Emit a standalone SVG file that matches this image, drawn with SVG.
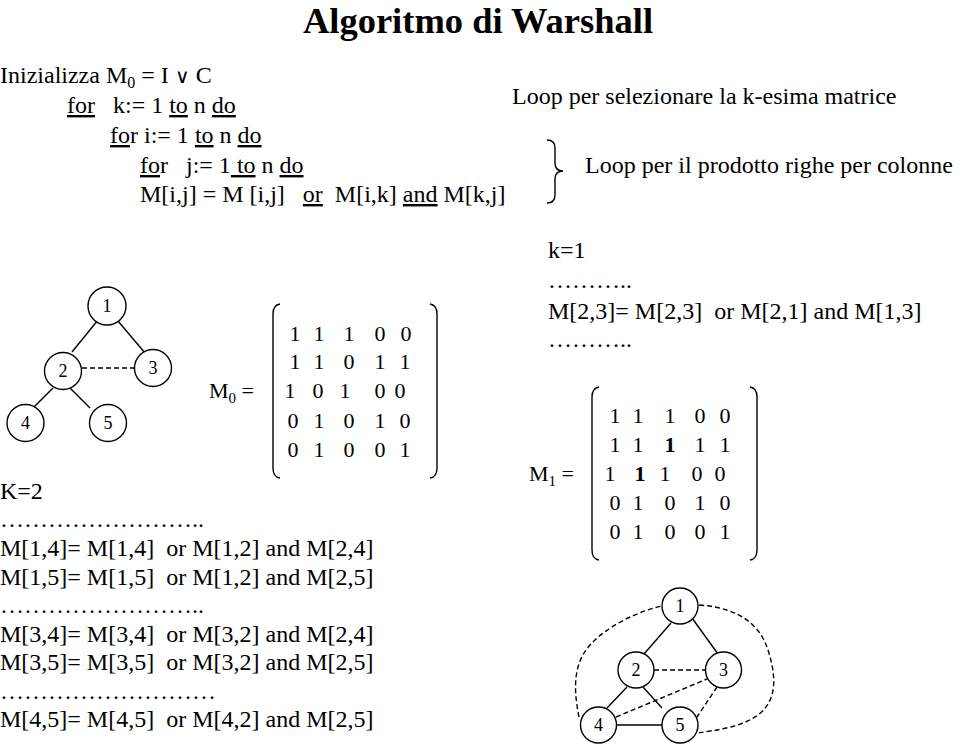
<svg xmlns="http://www.w3.org/2000/svg" width="960" height="744" viewBox="0 0 960 744">
<style>
text{font-family:"Liberation Serif","Times New Roman",serif;fill:#000}
.t{font-size:24px}
.d{font-size:22px;text-anchor:middle}
.b{font-weight:bold}
.u{text-decoration:underline}
.n{font-size:18px;text-anchor:middle}
circle{fill:#fff;stroke:#000;stroke-width:1.4}
.e{stroke:#000;stroke-width:1.4;fill:none}
.ds{stroke-dasharray:5,3}
.br{stroke:#000;stroke-width:1.4;fill:none}
</style>
<rect width="960" height="744" fill="#fff"/>
<text x="478" y="33" font-size="36.5" font-weight="bold" text-anchor="middle">Algoritmo di Warshall</text>
<g id="code">
<text class="t" x="0" y="83" xml:space="preserve">Inizializza M<tspan font-size="16" dy="5">0</tspan><tspan dy="-5"> = I </tspan><tspan font-size="20">∨</tspan> C</text>
<text class="t" x="67" y="113" xml:space="preserve"><tspan class="u">for</tspan>   k:= 1 <tspan class="u">to</tspan> n <tspan class="u">do</tspan></text>
<text class="t" x="110" y="143" xml:space="preserve"><tspan class="u">fo</tspan>r i:= 1 <tspan class="u">to</tspan> n <tspan class="u">do</tspan></text>
<text class="t" x="140" y="173" xml:space="preserve"><tspan class="u">fo</tspan>r   j:= 1<tspan class="u"> to</tspan> n <tspan class="u">do</tspan></text>
<text class="t" x="140" y="202" xml:space="preserve">M[i,j] = M [i,j]   <tspan class="u">or</tspan>  M[i,k] <tspan class="u">and</tspan> M[k,j]</text>
</g>
<g id="notes">
<text class="t" x="512" y="104">Loop per selezionare la k-esima matrice</text>
<path class="br" d="M547,140 Q555,140 555,148 L555,163 Q555,171 563,171 Q555,171 555,179 L555,195 Q555,203 547,203"/>
<text class="t" x="585" y="173">Loop per il prodotto righe per colonne</text>
</g>
<g id="k2text">
<text class="t" x="0" y="499">K=2</text>
<text class="t" x="0" y="527">……………………..</text>
<text class="t" x="0" y="556" xml:space="preserve">M[1,4]= M[1,4]  or M[1,2] and M[2,4]</text>
<text class="t" x="0" y="585" xml:space="preserve">M[1,5]= M[1,5]  or M[1,2] and M[2,5]</text>
<text class="t" x="0" y="613">……………………..</text>
<text class="t" x="0" y="642" xml:space="preserve">M[3,4]= M[3,4]  or M[3,2] and M[2,4]</text>
<text class="t" x="0" y="670" xml:space="preserve">M[3,5]= M[3,5]  or M[3,2] and M[2,5]</text>
<text class="t" x="0" y="699">………………………</text>
<text class="t" x="0" y="727" xml:space="preserve">M[4,5]= M[4,5]  or M[4,2] and M[2,5]</text>
</g>
<g id="k1text">
<text class="t" x="548" y="258">k=1</text>
<text class="t" x="548" y="288">………..</text>
<text class="t" x="548" y="319" xml:space="preserve">M[2,3]= M[2,3]  or M[2,1] and M[1,3]</text>
<text class="t" x="548" y="347">………..</text>
</g>
<g id="matrixM0">
<text x="209" y="398" font-size="22">M<tspan font-size="15" dy="5">0</tspan><tspan dy="-5"> =</tspan></text>
<path class="br" d="M280,304 Q273,305 273,314 L273,468 Q273,477 280,478"/>
<path class="br" d="M430,304 Q437,305 437,314 L437,468 Q437,477 430,478"/>
<text class="d" x="295" y="341">1</text><text class="d" x="319" y="341">1</text><text class="d" x="349" y="341">1</text><text class="d" x="380" y="341">0</text><text class="d" x="406" y="341">0</text>
<text class="d" x="295" y="369">1</text><text class="d" x="319" y="369">1</text><text class="d" x="349" y="369">0</text><text class="d" x="380" y="369">1</text><text class="d" x="405" y="369">1</text>
<text class="d" x="290" y="398">1</text><text class="d" x="318" y="398">0</text><text class="d" x="345" y="398">1</text><text class="d" x="380" y="398">0</text><text class="d" x="400" y="398">0</text>
<text class="d" x="293" y="428">0</text><text class="d" x="319" y="428">1</text><text class="d" x="349" y="428">0</text><text class="d" x="380" y="428">1</text><text class="d" x="405" y="428">0</text>
<text class="d" x="293" y="457">0</text><text class="d" x="319" y="457">1</text><text class="d" x="349" y="457">0</text><text class="d" x="380" y="457">0</text><text class="d" x="405" y="457">1</text>
</g>
<g id="matrixM1">
<text x="529" y="481" font-size="22">M<tspan font-size="15" dy="5">1</tspan><tspan dy="-5"> =</tspan></text>
<path class="br" d="M599,387 Q592,388 592,397 L592,550 Q592,559 599,560"/>
<path class="br" d="M750,387 Q757,388 757,397 L757,550 Q757,559 750,560"/>
<text class="d" x="615" y="423">1</text><text class="d" x="638" y="423">1</text><text class="d" x="670" y="423">1</text><text class="d" x="700" y="423">0</text><text class="d" x="725" y="423">0</text>
<text class="d" x="615" y="452">1</text><text class="d" x="638" y="452">1</text><text class="d b" x="670" y="452">1</text><text class="d" x="700" y="452">1</text><text class="d" x="725" y="452">1</text>
<text class="d" x="610" y="481">1</text><text class="d b" x="640" y="481">1</text><text class="d" x="665" y="481">1</text><text class="d" x="697" y="481">0</text><text class="d" x="720" y="481">0</text>
<text class="d" x="615" y="510">0</text><text class="d" x="638" y="510">1</text><text class="d" x="670" y="510">0</text><text class="d" x="700" y="510">1</text><text class="d" x="725" y="510">0</text>
<text class="d" x="615" y="539">0</text><text class="d" x="638" y="539">1</text><text class="d" x="670" y="539">0</text><text class="d" x="700" y="539">0</text><text class="d" x="725" y="539">1</text>
</g>
<g id="connectors">
<line class="e" x1="98" y1="320" x2="72" y2="352"/>
<line class="e" x1="118" y1="321" x2="145" y2="353"/>
<line class="e ds" x1="82" y1="368" x2="135" y2="368"/>
<line class="e" x1="53" y1="388" x2="34" y2="407"/>
<line class="e" x1="70" y1="388" x2="90" y2="408"/>
<line class="e" x1="671" y1="623" x2="644" y2="654"/>
<line class="e" x1="692" y1="618" x2="718" y2="654"/>
<line class="e ds" x1="654" y1="670" x2="706" y2="670"/>
<line class="e" x1="627" y1="687" x2="607" y2="708"/>
<line class="e" x1="643" y1="687" x2="662" y2="708"/>
<line class="e" x1="617" y1="725" x2="662" y2="725"/>
<line class="e ds" x1="616" y1="717" x2="707" y2="679"/>
<line class="e ds" x1="717" y1="687" x2="697" y2="717"/>
<path class="e ds" d="M579,717 C574,692 572,665 590,645 C605,628 635,612 662,606"/>
<path class="e ds" d="M699,605 C740,608 760,625 768,650 C776,675 778,700 758,715 C740,728 715,730 698,733"/>
</g>
<g id="g1n1"><circle cx="107" cy="306" r="19"/><text class="n" x="107" y="312">1</text></g>
<g id="g1n2"><circle cx="63" cy="371" r="18.5"/><text class="n" x="63" y="377">2</text></g>
<g id="g1n3"><circle cx="153" cy="368" r="18.5"/><text class="n" x="153" y="374">3</text></g>
<g id="g1n4"><circle cx="25.5" cy="423" r="18.5"/><text class="n" x="25.5" y="429">4</text></g>
<g id="g1n5"><circle cx="108" cy="423" r="18.5"/><text class="n" x="108" y="429">5</text></g>
<g id="g2n1"><circle cx="680" cy="606" r="18"/><text class="n" x="680" y="612">1</text></g>
<g id="g2n2"><circle cx="636" cy="670" r="18"/><text class="n" x="636" y="676">2</text></g>
<g id="g2n3"><circle cx="723.5" cy="670" r="18"/><text class="n" x="723.5" y="676">3</text></g>
<g id="g2n4"><circle cx="598.5" cy="725" r="18"/><text class="n" x="598.5" y="731">4</text></g>
<g id="g2n5"><circle cx="680" cy="725" r="18"/><text class="n" x="680" y="731">5</text></g>
</svg>
